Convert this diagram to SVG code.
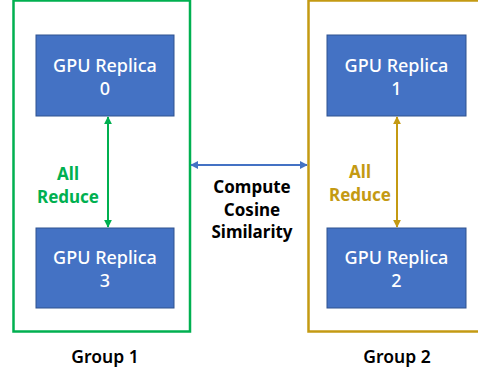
<svg xmlns="http://www.w3.org/2000/svg" width="478" height="375" viewBox="0 0 478 375">
<defs>
<style>
.node{fill:#4472C4;stroke:#2F528F;stroke-width:1}
.nt{font-family:"Noto Sans","Liberation Sans",sans-serif;font-size:18px;font-weight:500;fill:#fff;text-anchor:middle}
.lbl{font-family:"Noto Sans","Liberation Sans",sans-serif;font-size:17px;font-weight:700;text-anchor:middle}
.grp{font-family:"Noto Sans","Liberation Sans",sans-serif;font-size:17.5px;font-weight:600;text-anchor:middle;fill:#000}
</style>
<marker id="ag" viewBox="0 0 10 10" refX="9" refY="5" markerWidth="4" markerHeight="4" orient="auto-start-reverse"><path d="M0,0L10,5L0,10z" fill="#00B050"/></marker>
<marker id="ay" viewBox="0 0 10 10" refX="9" refY="5" markerWidth="4" markerHeight="4" orient="auto-start-reverse"><path d="M0,0L10,5L0,10z" fill="#C49A13"/></marker>
<marker id="ab" viewBox="0 0 10 10" refX="9" refY="5" markerWidth="4" markerHeight="4" orient="auto-start-reverse"><path d="M0,0L10,5L0,10z" fill="#4472C4"/></marker>
</defs>
<rect width="478" height="375" fill="#fff"/>
<g id="group1">
<rect x="13.5" y="0.5" width="176.5" height="331" fill="none" stroke="#00B050" stroke-width="2.5"/>
<text class="grp" x="105" y="363">Group 1</text>
</g>
<g id="group2">
<rect x="308.5" y="0.5" width="180" height="331" fill="none" stroke="#C49A13" stroke-width="2.5"/>
<text class="grp" x="397" y="363">Group 2</text>
</g>
<g id="replica0"><rect class="node" x="36" y="35" width="138" height="81"/><text class="nt" x="105" y="72">GPU Replica</text><text class="nt" x="105" y="95">0</text></g>
<g id="replica3"><rect class="node" x="36" y="228" width="138" height="80"/><text class="nt" x="105" y="264">GPU Replica</text><text class="nt" x="105" y="287">3</text></g>
<g id="replica1"><rect class="node" x="327" y="35" width="139" height="81"/><text class="nt" x="396.5" y="72">GPU Replica</text><text class="nt" x="396.5" y="95">1</text></g>
<g id="replica2"><rect class="node" x="327" y="228" width="139" height="80"/><text class="nt" x="396.5" y="264">GPU Replica</text><text class="nt" x="396.5" y="287">2</text></g>
<g id="connectors">
<line x1="108" y1="117" x2="108" y2="227" stroke="#00B050" stroke-width="2" marker-start="url(#ag)" marker-end="url(#ag)"/>
<line x1="397" y1="117" x2="397" y2="227" stroke="#C49A13" stroke-width="2" marker-start="url(#ay)" marker-end="url(#ay)"/>
<line x1="191" y1="165" x2="307" y2="165" stroke="#4472C4" stroke-width="2" marker-start="url(#ab)" marker-end="url(#ab)"/>
<text class="lbl" x="68" y="180" fill="#00B050">All</text>
<text class="lbl" x="68" y="203" fill="#00B050">Reduce</text>
<text class="lbl" x="360" y="178" fill="#C49A13">All</text>
<text class="lbl" x="360" y="201" fill="#C49A13">Reduce</text>
<text class="lbl" x="252" y="193" fill="#000">Compute</text>
<text class="lbl" x="252" y="216" fill="#000">Cosine</text>
<text class="lbl" x="252" y="238" fill="#000">Similarity</text>
</g>
</svg>
